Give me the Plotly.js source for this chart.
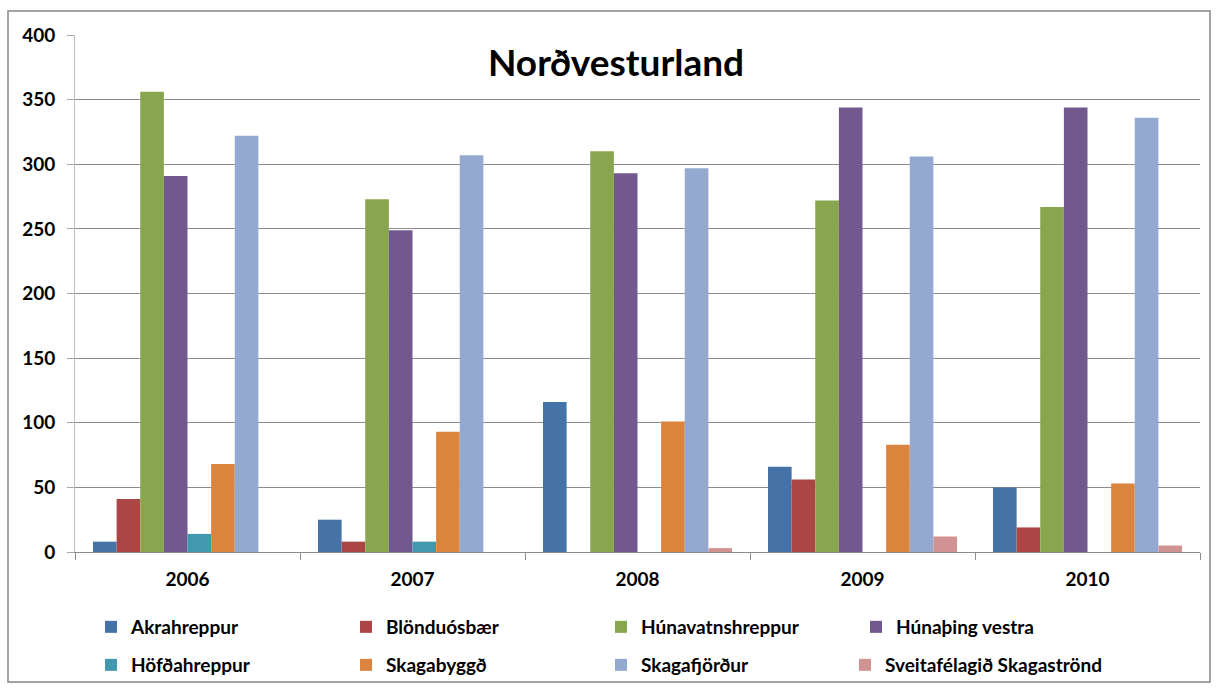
<!DOCTYPE html>
<html>
<head>
<meta charset="utf-8">
<script src="https://cdn.plot.ly/plotly-3.0.1.min.js"></script>
<style>
html,body{margin:0;padding:0;background:#fff;}
#chart{width:1218px;height:689px;}
</style>
</head>
<body>
<div id="chart"></div>
<script>
const years = ['2006', '2007', '2008', '2009', '2010'];
const seriesNames = ['Akrahreppur', 'Blönduósbær', 'Húnavatnshreppur', 'Húnaþing vestra',
  'Höfðahreppur', 'Skagabyggð', 'Skagafjörður', 'Sveitafélagið Skagaströnd'];
const akrahreppur = [8, 25, 116, 66, 50];
const blonduosbaer = [41, 8, 0, 56, 19];
const hunavatnshreppur = [356, 273, 310, 272, 267];
const hunathingVestra = [291, 249, 293, 344, 344];
const hofdahreppur = [14, 8, 0, 0, 0];
const skagabyggd = [68, 93, 101, 83, 53];
const skagafjordur = [322, 307, 297, 306, 336];
const skagastrond = [0, 0, 3, 12, 5];
const seriesValues = [akrahreppur, blonduosbaer, hunavatnshreppur, hunathingVestra,
  hofdahreppur, skagabyggd, skagafjordur, skagastrond];
const colors = ['#4572A7', '#AA4643', '#89A54E', '#71588F', '#4198AF', '#DB843D', '#93A9CF', '#D19392'];

const FONT = 'Lato, "Open Sans", "DejaVu Sans", sans-serif';

function legendFor(i) {
  if (i < 4) return 'legend';
  if (i < 7) return 'legend2';
  return 'legend3';
}

const traces = seriesNames.map((name, i) => ({
  type: 'bar',
  name: name,
  x: years,
  y: seriesValues[i],
  legend: legendFor(i),
  marker: {color: colors[i], line: {width: 0}},
  hoverinfo: 'x+y+name'
}));

// plot area in pixels: left 75, right 1200, top 35, bottom 552
const W = 1218, H = 689, L = 75, R = 18, T = 35, B = 137;
const pw = W - L - R, ph = H - T - B;

const legendBase = {
  orientation: 'h',
  x: (91 - L) / pw, xanchor: 'left',
  yanchor: 'middle',
  font: {family: FONT, size: 19, weight: 'bold', color: '#000000'},
  entrywidth: 210, entrywidthmode: 'pixels',
  itemwidth: 30,
  traceorder: 'normal',
  bgcolor: 'rgba(0,0,0,0)'
};

const layout = {
  width: W, height: H,
  margin: {l: L, r: R, t: T, b: B, pad: 0, autoexpand: false},
  paper_bgcolor: '#ffffff',
  plot_bgcolor: '#ffffff',
  font: {family: FONT, color: '#000000', size: 19},
  title: {
    text: 'Norðvesturland',
    font: {family: FONT, size: 37, weight: 'bold', color: '#000000'},
    xref: 'container', yref: 'container',
    x: 616 / W, xanchor: 'center',
    y: 1 - 63 / H, yanchor: 'middle'
  },
  barmode: 'group',
  bargap: 0.16,
  bargroupgap: 0,
  showlegend: true,
  legend: Object.assign({}, legendBase, {y: -(627 - 552) / ph}),
  legend2: Object.assign({}, legendBase, {y: -(665 - 552) / ph}),
  legend3: Object.assign({}, legendBase, {
    x: (845 - L) / pw, y: -(665 - 552) / ph,
    entrywidth: 0
  }),
  xaxis: {
    type: 'category',
    tickson: 'boundaries',
    ticks: 'outside', ticklen: 7, tickcolor: '#8c8c8c', tickwidth: 1,
    showline: true, linecolor: '#8c8c8c', linewidth: 1,
    showgrid: false,
    tickfont: {family: FONT, size: 19, weight: 'bold', color: '#000000'},
    ticklabelstandoff: 10,
    fixedrange: true
  },
  yaxis: {
    range: [0, 400],
    dtick: 50,
    tick0: 0,
    ticks: 'outside', ticklen: 7, tickcolor: '#a6a6a6', tickwidth: 1,
    showline: true, linecolor: '#bfbfbf', linewidth: 1,
    showgrid: true, gridcolor: '#8c8c8c', gridwidth: 1,
    zeroline: false,
    tickfont: {family: FONT, size: 19, weight: 'bold', color: '#000000'},
    ticklabelstandoff: 8,
    fixedrange: true
  },
  shapes: [{
    type: 'rect', xref: 'paper', yref: 'paper',
    x0: (8 - L) / pw, x1: (1210 - L) / pw,
    y0: (552 - 682) / ph, y1: (552 - 11) / ph,
    line: {color: '#868686', width: 1.5},
    fillcolor: 'rgba(0,0,0,0)',
    layer: 'below'
  }]
};

Plotly.newPlot('chart', traces, layout, {displayModeBar: false, staticPlot: true});
</script>
</body>
</html>
